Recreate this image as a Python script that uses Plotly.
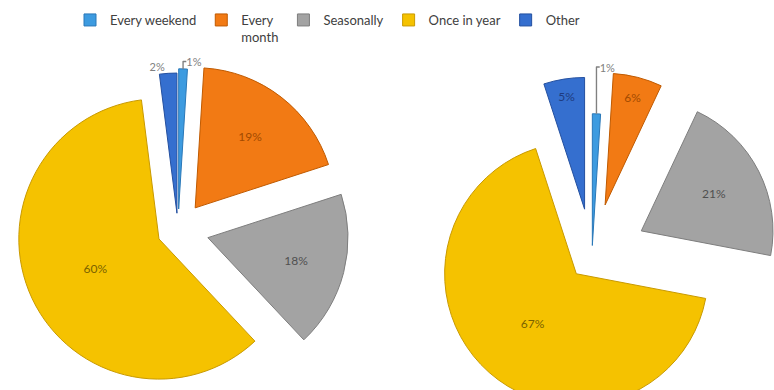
import plotly.graph_objects as go

categories = ["Every weekend", "Every<br>month", "Seasonally", "Once in year", "Other"]
left_values = [1, 19, 18, 60, 2]
right_values = [1, 6, 21, 67, 5]

colors = ["#3D9BE0", "#F27A14", "#A3A3A3", "#F5C200", "#356FCF"]
edge_colors = ["#2A78B8", "#C05A00", "#7E7E7E", "#C99A00", "#2450A0"]
text_colors = ["#6F7F8F", "#A34A00", "#505050", "#7A6200", "#1E3C80"]

left_pull = [0.15, 0.20, 0.22, 0.15, 0.12]
right_pull = [0.08, 0.40, 0.42, 0.18, 0.36]

W, H = 800, 450

def dom(cx, cy, half):
    return dict(x=[(cx - half) / W, (cx + half) / W],
                y=[(H - (cy + half)) / H, (H - (cy - half)) / H])

fig = go.Figure()
fig.add_trace(go.Pie(
    labels=categories, values=left_values, sort=False, direction="clockwise", rotation=0,
    pull=left_pull, domain=dom(178, 230, 171),
    marker=dict(colors=colors, line=dict(color=edge_colors, width=1)),
    texttemplate="%{value}%", textposition=["outside", "inside", "inside", "inside", "outside"],
    insidetextorientation="horizontal",
    insidetextfont=dict(size=12, color=text_colors, family="Lato"),
    outsidetextfont=dict(size=11, color="#808080", family="Lato"),
    automargin=False, showlegend=True, hoverinfo="label+percent",
))
fig.add_trace(go.Pie(
    labels=categories, values=right_values, sort=False, direction="clockwise", rotation=0,
    pull=right_pull, domain=dom(592, 256, 187),
    marker=dict(colors=colors, line=dict(color=edge_colors, width=1)),
    texttemplate="%{value}%", textposition=["outside", "inside", "inside", "inside", "inside"],
    insidetextorientation="horizontal",
    insidetextfont=dict(size=12, color=text_colors, family="Lato"),
    outsidetextfont=dict(size=11, color="#808080", family="Lato"),
    automargin=False, showlegend=False, hoverinfo="label+percent",
))

fig.update_layout(
    width=W, height=H,
    margin=dict(l=0, r=0, t=0, b=0),
    paper_bgcolor="white",
    legend=dict(orientation="h", x=70 / W, y=(H - 5) / H, xanchor="left", yanchor="top",
                font=dict(family="Lato", size=13, color="#404040"),
                valign="top", itemwidth=30, traceorder="normal"),
)

fig.write_html("out.html", config={"displayModeBar": False},
               post_script="document.body.style.margin='0';document.body.style.overflow='hidden';")
